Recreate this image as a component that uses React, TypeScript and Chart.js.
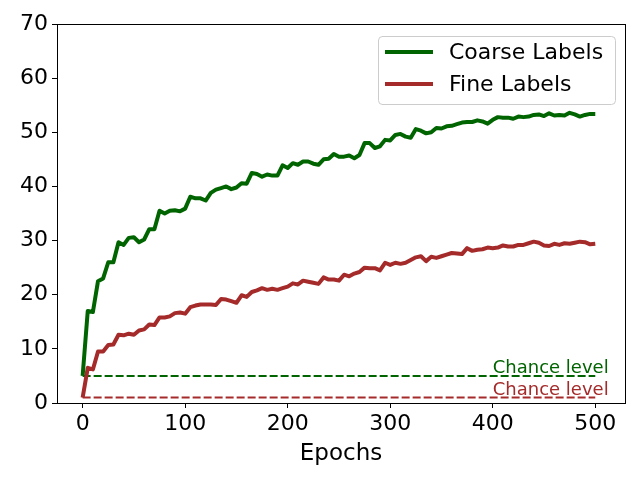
import React, { useEffect, useRef } from "react";
import { Chart, registerables } from "chart.js";

Chart.register(...registerables);

const epochs = [
  0, 5, 10, 15, 20, 25, 30, 35, 40, 45, 50, 55, 60, 65, 70, 75, 80, 85, 90, 95,
  100, 105, 110, 115, 120, 125, 130, 135, 140, 145, 150, 155, 160, 165, 170, 175, 180, 185, 190, 195,
  200, 205, 210, 215, 220, 225, 230, 235, 240, 245, 250, 255, 260, 265, 270, 275, 280, 285, 290, 295,
  300, 305, 310, 315, 320, 325, 330, 335, 340, 345, 350, 355, 360, 365, 370, 375, 380, 385, 390, 395,
  400, 405, 410, 415, 420, 425, 430, 435, 440, 445, 450, 455, 460, 465, 470, 475, 480, 485, 490, 495,
  500,
];

const coarseLabels = [
  5.0, 17.0, 16.8, 22.5, 23.0, 26.0, 26.0, 29.7, 29.2, 30.5, 30.6, 29.7, 30.2, 32.1, 32.1, 35.5, 35.0, 35.5, 35.6, 35.4,
  35.9, 38.1, 37.8, 37.8, 37.4, 38.8, 39.4, 39.7, 40.0, 39.5, 39.8, 40.6, 40.5, 42.5, 42.3, 41.8, 42.2, 42.0, 42.0, 43.9,
  43.4, 44.3, 44.0, 44.6, 44.6, 44.2, 44.0, 45.0, 45.1, 46.0, 45.5, 45.5, 45.7, 45.2, 45.8, 48.0, 48.0, 47.1, 47.4, 48.6,
  48.5, 49.5, 49.7, 49.2, 49.0, 50.6, 50.3, 49.8, 50.0, 50.8, 50.7, 51.1, 51.2, 51.5, 51.8, 51.9, 51.9, 52.2, 52.0, 51.6,
  52.3, 52.8, 52.7, 52.7, 52.5, 52.9, 52.8, 52.9, 53.2, 53.3, 53.0, 53.5, 53.1, 53.2, 53.1, 53.6, 53.3, 52.9, 53.2, 53.4,
  53.4,
];

const fineLabels = [
  1.0, 6.5, 6.2, 9.5, 9.5, 10.7, 10.8, 12.6, 12.5, 12.8, 12.6, 13.4, 13.6, 14.5, 14.4, 15.8, 15.8, 16.0, 16.6, 16.7,
  16.5, 17.7, 18.0, 18.2, 18.2, 18.2, 18.1, 19.2, 19.1, 18.8, 18.5, 19.9, 19.6, 20.5, 20.8, 21.2, 20.9, 21.1, 20.9, 21.2,
  21.5, 22.1, 21.9, 22.6, 22.4, 22.2, 22.0, 23.2, 22.8, 22.8, 22.6, 23.7, 23.4, 23.9, 24.2, 25.0, 24.9, 24.9, 24.5, 25.9,
  25.5, 25.9, 25.7, 25.9, 26.4, 26.9, 27.1, 26.2, 27.0, 26.8, 27.1, 27.4, 27.7, 27.6, 27.5, 28.6, 28.1, 28.3, 28.4, 28.7,
  28.6, 28.7, 29.1, 28.9, 28.9, 29.2, 29.2, 29.5, 29.8, 29.6, 29.1, 29.0, 29.4, 29.2, 29.5, 29.4, 29.6, 29.8, 29.7, 29.3,
  29.4,
];

const seriesNames = ["Coarse Labels", "Fine Labels"];
const seriesColors = ["#006400", "#A52A2A"];
const chanceLevels = [5, 1];
const chanceText = "Chance level";
const chanceStart = 0;
const chanceEnd = 500;
const chanceTextX = 400;
const xTicks = [0, 100, 200, 300, 400, 500];
const yTicks = [0, 10, 20, 30, 40, 50, 60, 70];
const xTitle = "Epochs";

const FONT = "DejaVu Sans";

export default function App() {
  const ref = useRef<HTMLCanvasElement | null>(null);

  useEffect(() => {
    const canvas = ref.current;
    if (!canvas) return;

    const frame = {
      id: "frame",
      afterDraw(chart: any) {
        const { ctx, chartArea } = chart;
        ctx.save();
        ctx.strokeStyle = "#000";
        ctx.lineWidth = 1;
        ctx.strokeRect(
          Math.round(chartArea.left) + 0.5,
          Math.round(chartArea.top) + 0.5,
          Math.round(chartArea.right - chartArea.left),
          Math.round(chartArea.bottom - chartArea.top)
        );
        ctx.restore();
      },
    };

    const chanceLabels = {
      id: "chanceLabels",
      afterDatasetsDraw(chart: any) {
        const { ctx } = chart;
        const xs = chart.scales.x;
        const ys = chart.scales.y;
        ctx.save();
        ctx.font = `18px "${FONT}"`;
        ctx.textAlign = "left";
        ctx.textBaseline = "alphabetic";
        chanceLevels.forEach((lvl, i) => {
          ctx.fillStyle = seriesColors[i];
          ctx.fillText(chanceText, xs.getPixelForValue(chanceTextX), ys.getPixelForValue(lvl) - 3);
        });
        ctx.restore();
      },
    };

    const legendBox = {
      id: "legendBox",
      afterDraw(chart: any) {
        const { ctx, chartArea } = chart;
        const w = 237;
        const h = 68;
        const right = chartArea.right - 10;
        const left = right - w;
        const top = chartArea.top + 12;
        ctx.save();
        ctx.beginPath();
        const r = 4;
        ctx.moveTo(left + r, top + 0.5);
        ctx.lineTo(left + w - r, top + 0.5);
        ctx.arcTo(left + w + 0.5, top + 0.5, left + w + 0.5, top + r, r);
        ctx.lineTo(left + w + 0.5, top + h - r);
        ctx.arcTo(left + w + 0.5, top + h + 0.5, left + w - r, top + h + 0.5, r);
        ctx.lineTo(left + r, top + h + 0.5);
        ctx.arcTo(left + 0.5, top + h + 0.5, left + 0.5, top + h - r, r);
        ctx.lineTo(left + 0.5, top + r);
        ctx.arcTo(left + 0.5, top + 0.5, left + r, top + 0.5, r);
        ctx.closePath();
        ctx.fillStyle = "rgba(255,255,255,0.8)";
        ctx.fill();
        ctx.strokeStyle = "#cccccc";
        ctx.lineWidth = 1;
        ctx.stroke();
        ctx.font = `22px "${FONT}"`;
        ctx.textBaseline = "middle";
        ctx.textAlign = "left";
        seriesNames.forEach((name, i) => {
          const y = top + 16 + i * 32;
          ctx.beginPath();
          ctx.strokeStyle = seriesColors[i];
          ctx.lineWidth = 4;
          ctx.moveTo(left + 7, y);
          ctx.lineTo(left + 55, y);
          ctx.stroke();
          ctx.fillStyle = "#000";
          ctx.fillText(name, left + 71, y + 1);
        });
        ctx.restore();
      },
    };

    const mainSets = [coarseLabels, fineLabels].map((vals, i) => ({
      label: seriesNames[i],
      data: epochs.map((e, j) => ({ x: e, y: vals[j] })),
      borderColor: seriesColors[i],
      backgroundColor: seriesColors[i],
      borderWidth: 4,
      pointRadius: 0,
      tension: 0,
      fill: false,
      borderJoinStyle: "round" as const,
      borderCapStyle: "butt" as const,
    }));

    const chanceSets = chanceLevels.map((lvl, i) => ({
      label: `${chanceText} ${i}`,
      data: [
        { x: chanceStart, y: lvl },
        { x: chanceEnd, y: lvl },
      ],
      borderColor: seriesColors[i],
      borderWidth: 2,
      borderDash: [8, 3],
      pointRadius: 0,
      fill: false,
    }));

    const chart = new Chart(canvas, {
      type: "line",
      data: { datasets: [...mainSets, ...chanceSets] as any },
      options: {
        animation: false,
        responsive: false,
        maintainAspectRatio: false,
        layout: { padding: { top: 24, right: 15, left: 0, bottom: 0 } },
        plugins: {
          legend: { display: false },
          tooltip: { enabled: false },
        },
        scales: {
          x: {
            type: "linear",
            min: -25,
            max: 529,
            afterBuildTicks: (s: any) => {
              s.ticks = xTicks.map((v) => ({ value: v }));
            },
            afterFit: (s: any) => {
              s.height = 77;
            },
            grid: {
              display: true,
              drawOnChartArea: false,
              drawTicks: true,
              tickLength: 5,
              color: "#000",
              lineWidth: 1,
            },
            border: { display: true, color: "#000", width: 1 },
            ticks: {
              color: "#000",
              font: { family: FONT, size: 22 },
              padding: 3,
              maxRotation: 0,
              autoSkip: false,
              callback: (v: any) => String(v),
            },
            title: {
              display: true,
              text: xTitle,
              color: "#000",
              font: { family: FONT, size: 23 },
              padding: { top: 2, bottom: 12 },
            },
          },
          y: {
            type: "linear",
            min: 0,
            max: 70,
            afterBuildTicks: (s: any) => {
              s.ticks = yTicks.map((v) => ({ value: v }));
            },
            afterFit: (s: any) => {
              s.width = 57;
            },
            grid: {
              display: true,
              drawOnChartArea: false,
              drawTicks: true,
              tickLength: 5,
              color: "#000",
              lineWidth: 1,
            },
            border: { display: true, color: "#000", width: 1 },
            ticks: {
              color: "#000",
              font: { family: FONT, size: 22 },
              padding: 4,
              autoSkip: false,
              callback: (v: any) => String(v),
            },
          },
        },
      },
      plugins: [frame, chanceLabels, legendBox],
    });

    return () => chart.destroy();
  }, []);

  return (
    <canvas
      ref={ref}
      width={640}
      height={480}
      style={{ position: "absolute", left: 0, top: 0, width: 640, height: 480, display: "block", background: "#fff" }}
    />
  );
}
